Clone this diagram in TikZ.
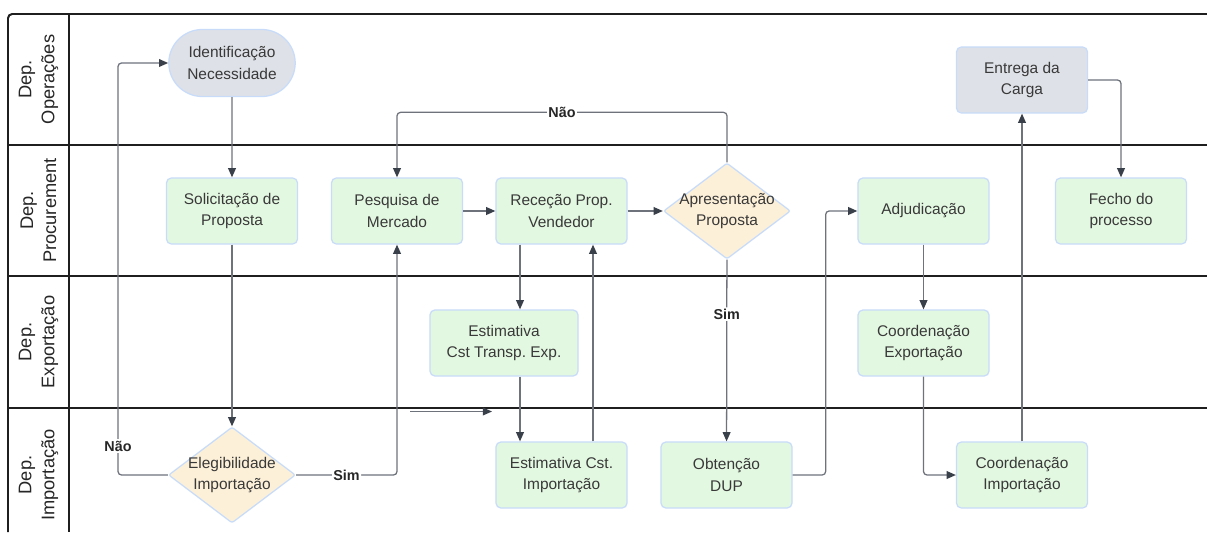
\documentclass[tikz,border=0pt]{standalone}
\usepackage{fontspec}
\setmainfont{Liberation Sans}
\usepackage{tikz}
\usetikzlibrary{shapes.geometric,shapes.misc,arrows.meta}
\frenchspacing
\definecolor{boxgreen}{HTML}{E3F8E1}
\definecolor{boxgray}{HTML}{DEE1E7}
\definecolor{boxsand}{HTML}{FDF0D8}
\definecolor{boxedge}{HTML}{C8DCFA}
\definecolor{linkgray}{HTML}{6D727B}
\definecolor{tipdark}{HTML}{3A404A}
\definecolor{txtdark}{HTML}{393939}
\tikzset{>={Triangle[length=6.5pt,width=5.5pt,color=tipdark]}}
\tikzset{%
    lane/.style={line width=1.4pt,draw=black!88},
    lanelabel/.style={rotate=90,align=center,text=black!85,
        font=\fontsize{13}{16.4}\selectfont},
    boxbase/.style={draw=boxedge,line width=0.9pt,align=center,text=txtdark,
        inner sep=2pt,font=\fontsize{11}{15.4}\selectfont},
    task/.style={boxbase,rectangle,rounded corners=3.5pt,fill=boxgreen,
        minimum width=3.275cm,minimum height=1.65cm},
    deptask/.style={task,fill=boxgray},
    startbox/.style={boxbase,rounded rectangle,fill=boxgray,
        minimum width=3.3cm,minimum height=1.675cm},
    decision/.style={boxbase,diamond,aspect=1.32,inner sep=-5pt,fill=boxsand,
        rounded corners=1.5pt,minimum width=3.175cm,minimum height=2.4cm},
    link/.style={->,draw=linkgray,line width=0.9pt,rounded corners=2.5pt},
    answer/.style={fill=white,inner sep=1pt,text=black!85,
        font=\fontsize{10.2}{12}\selectfont\bfseries}
}

\begin{document}
\begin{tikzpicture}[x=0.025cm,y=-0.025cm]
    \useasboundingbox (0,0) rectangle (1207,532);
    % lanes
    \draw[lane,rounded corners=3pt] (8,532) -- (8,14) -- (1207,14);
    \draw[lane] (69,14) -- (69,532);
    \draw[lane] (8,145) -- (1207,145);
    \draw[lane] (8,276) -- (1207,276);
    \draw[lane] (8,408) -- (1207,408);
    \node[lanelabel] (lop) at (38.5,79.5) {Dep.\\Operações};
    \node[lanelabel] (lpr) at (38.5,210.5) {Dep.\\Procurement};
    \node[lanelabel] (lex) at (38.5,342) {Dep.\\Exportação};
    \node[lanelabel] (lim) at (38.5,475) {Dep.\\Importação};

    % steps
    \node[startbox] (ident) at (232,63) {Identificação\\Necessidade};
    \node[deptask] (entrega) at (1022,80) {Entrega da\\Carga};
    \node[task] (solic) at (232,211) {Solicitação de\\Proposta};
    \node[task] (pesq) at (397,211) {Pesquisa de\\Mercado};
    \node[task] (recep) at (561.5,211) {Receção Prop.\\Vendedor};
    \node[decision] (apres) at (727,211) {Apresentação\\Proposta};
    \node[task] (adjud) at (923.5,211) {Adjudicação};
    \node[task] (fecho) at (1121,211) {Fecho do\\processo};
    \node[task,minimum width=3.7cm] (estexp) at (504,343) {Estimativa\\Cst Transp. Exp.};
    \node[task] (coordexp) at (923.5,343) {Coordenação\\Exportação};
    \node[decision] (eleg) at (232,475) {Elegibilidade\\Importação};
    \node[task] (estimp) at (561.5,475) {Estimativa Cst.\\Importação};
    \node[task] (obtdup) at (726.5,475) {Obtenção\\DUP};
    \node[task] (coordimp) at (1022,475) {Coordenação\\Importação};

    % flow
    \coordinate (loopx) at (118,0);
    \coordinate (colA) at (520,0);
    \coordinate (colB) at (593,0);
    \coordinate (strayA) at (410,411.5);
    \coordinate (strayB) at (492,411.5);
    \draw[link] (ident) -- (solic);
    \draw[link] (solic) -- (eleg);
    \draw[link] (eleg.west) -| (loopx |- ident.west) -- (ident.west);
    \node[answer] (nao1) at (118,446) {Não};
    \draw[link] (eleg.east) -| node[answer,pos=0.25] (sim1) {Sim} (pesq.south);
    \draw[link] (pesq) -- (recep);
    \draw[link] (recep) -- (apres);
    \draw[link] (apres.north) -- ++(0,-50) -| node[answer,pos=0.25] (nao2) {Não} (pesq.north);
    \draw[link] (apres) -- node[answer,pos=0.3] (sim2) {Sim} (obtdup);
    \draw[link] (recep.south -| colA) -- (estexp.north -| colA);
    \draw[link] (estexp.south -| colA) -- (estimp.north -| colA);
    \draw[link] (estimp.north -| colB) -- (recep.south -| colB);
    \draw[link] (strayA) -- (strayB);
    \draw[link] (obtdup.east) -- ++(33,0) |- (adjud.west);
    \draw[link] (adjud) -- (coordexp);
    \draw[link] (coordexp.south) |- (coordimp.west);
    \draw[link] (coordimp) -- (entrega);
    \draw[link] (entrega.east) -| (fecho.north);
\end{tikzpicture}
\end{document}
